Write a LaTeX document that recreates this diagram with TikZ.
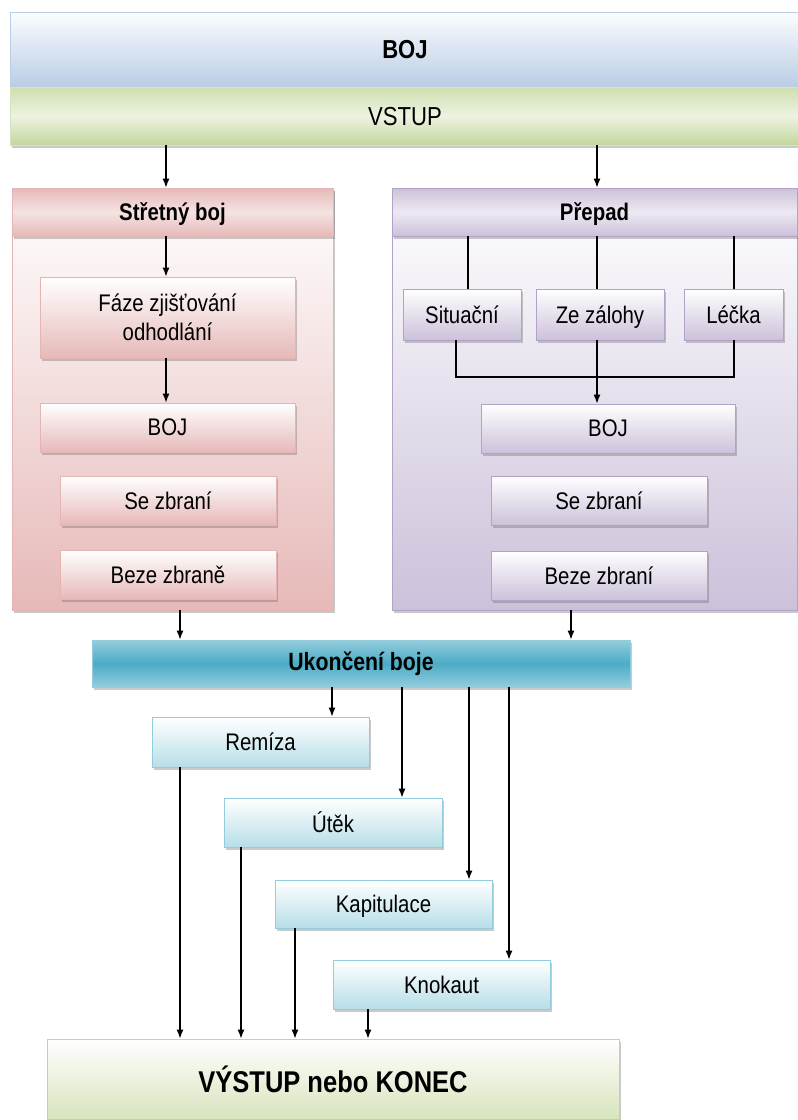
\documentclass[tikz,border=0pt]{standalone}
\usepackage{fontspec}
\setmainfont{Liberation Sans}[FakeStretch=0.85]
\usetikzlibrary{arrows.meta,shadows}

\definecolor{modra}{HTML}{B9CDE5}
\definecolor{zelena}{HTML}{D7E4BD}
\definecolor{zelenatm}{HTML}{C3D69B}
\definecolor{ruzova}{HTML}{E6B9B8}
\definecolor{ruzovatm}{HTML}{D99694}
\definecolor{fialova}{HTML}{CCC1DA}
\definecolor{fialovatm}{HTML}{B3A2C7}
\definecolor{tyrkys}{HTML}{4BACC6}
\definecolor{tyrkyssv}{HTML}{93CDDD}
\definecolor{azur}{HTML}{B7DEE8}

\tikzset{
  arr/.style={-{Latex[length=9pt,width=7pt]}, line width=1.2pt},
  spoj/.style={line width=1.2pt},
  stin/.style={drop shadow={shadow xshift=2pt, shadow yshift=-3pt, opacity=.35, fill=black!60}},
  box/.style={rectangle, inner sep=0pt, align=center, text depth=0pt, font=\fontsize{24}{29}\selectfont, stin},
  ruzbox/.style={box, draw=ruzovatm!70, line width=0.8pt, top color=white, bottom color=ruzova},
  fialbox/.style={box, draw=fialovatm, line width=0.8pt, top color=white, bottom color=fialova},
  azurbox/.style={box, draw=tyrkyssv, line width=0.8pt, top color=white, bottom color=azur},
}

\begin{document}
\begin{tikzpicture}[x=1pt, y=-1pt]
    \useasboundingbox[fill=white] (0,0) rectangle (798,1120);

    % Top bands
    \node[box, draw=modra, top color=white!95!modra, bottom color=modra, minimum width=790pt, minimum height=75pt,
          font=\fontsize{26}{30}\selectfont\bfseries] (boj) at (405,49.5) {BOJ};
    \node[box, draw=zelena, top color=zelenatm!80, bottom color=zelenatm, middle color=zelena!45, minimum width=790pt,
          minimum height=58pt, font=\fontsize{26}{30}\selectfont] (vstup) at (405,116) {VSTUP};

    % Left panel
    \node[box, draw=ruzovatm!70, line width=0.8pt, top color=white, bottom color=ruzova, minimum width=321pt, minimum height=422pt] (stretbox) at (172.5,399) {};
    \node[box, draw=ruzovatm!70, line width=0.8pt, top color=ruzova, bottom color=ruzova, middle color=ruzova!40, minimum width=321pt, minimum height=48pt,
          font=\fontsize{24}{29}\selectfont\bfseries] (stret) at (172.5,212) {Střetný boj};
    \node[ruzbox, minimum width=255pt, minimum height=81pt] (faze) at (167.5,317.5) {Fáze zjišťování\\odhodlání};
    \node[ruzbox, minimum width=255pt, minimum height=49pt] (bojl) at (167.5,427.5) {BOJ};
    \node[ruzbox, minimum width=216pt, minimum height=49pt] (sezbl) at (168,500.5) {Se zbraní};
    \node[ruzbox, minimum width=216pt, minimum height=49pt] (bezel) at (168,574.5) {Beze zbraně};

    % Right panel
    \node[box, draw=fialovatm, line width=0.8pt, top color=white, bottom color=fialova, minimum width=405pt, minimum height=422pt] (prepadbox) at (594.5,399) {};
    \node[box, draw=fialovatm, line width=0.8pt, top color=fialova, bottom color=fialova, middle color=fialova!35, minimum width=405pt, minimum height=48pt,
          font=\fontsize{24}{29}\selectfont\bfseries] (prepad) at (594.5,212) {Přepad};
    \node[fialbox, minimum width=118pt, minimum height=51pt] (situ) at (462,314.5) {Situační};
    \node[fialbox, minimum width=128pt, minimum height=51pt] (zezal) at (600,314.5) {Ze zálohy};
    \node[fialbox, minimum width=99pt, minimum height=51pt] (lecka) at (733.5,314.5) {Léčka};
    \node[fialbox, minimum width=254pt, minimum height=49pt] (bojr) at (608,428.5) {BOJ};
    \node[fialbox, minimum width=216pt, minimum height=49pt] (sezbr) at (599,500.5) {Se zbraní};
    \node[fialbox, minimum width=216pt, minimum height=49pt] (bezer) at (599,575.5) {Beze zbraní};

    % End of fight
    \node[box, draw=tyrkyssv, line width=0.8pt, top color=tyrkyssv, bottom color=tyrkyssv, middle color=tyrkys, minimum width=538pt, minimum height=47pt,
          text depth=5pt, font=\fontsize{25}{29}\selectfont\bfseries] (ukonceni) at (361,663.5) {Ukončení boje};
    \node[azurbox, minimum width=217pt, minimum height=50pt] (remiza) at (260.5,742) {Remíza};
    \node[azurbox, minimum width=218pt, minimum height=49pt] (utek) at (333,822.5) {Útěk};
    \node[azurbox, minimum width=217pt, minimum height=48pt] (kapit) at (383.5,904) {Kapitulace};
    \node[azurbox, minimum width=217pt, minimum height=49pt] (knok) at (441.5,984.5) {Knokaut};
    \node[box, draw=zelenatm, line width=0.8pt, top color=white, bottom color=zelena, minimum width=572pt, minimum height=80pt,
          font=\fontsize{30}{34}\selectfont\bfseries] (vystup) at (333,1079) {VÝSTUP nebo KONEC};

    % Arrows from the top
    \coordinate (vl) at (166,0);
    \coordinate (vp) at (597,0);
    \draw[arr] (vstup.south -| vl) -- (stret.north -| vl);
    \draw[arr] (vstup.south -| vp) -- (prepad.north -| vp);

    % Left panel arrows
    \draw[arr] (stret.south -| vl) -- (faze.north -| vl);
    \draw[arr] (faze.south -| vl) -- (bojl.north -| vl);

    % Right panel lines
    \foreach \n/\x in {situ/468, zezal/597, lecka/734} {
        \coordinate (h\n) at (\x,0);
        \draw[spoj] (prepad.south -| h\n) -- (\n.north -| h\n);
    }
    \coordinate (sit) at (456,0);
    \coordinate (spoj) at (597,377);
    \draw[spoj] (situ.south -| sit) |- (spoj) -| (lecka.south -| hlecka);
    \draw[arr] (zezal.south -| hzezal) -- (bojr.north -| hzezal);

    % Into Ukonceni
    \coordinate (ul) at (180,0);
    \coordinate (up) at (571,0);
    \draw[arr] (stretbox.south -| ul) -- (ukonceni.north -| ul);
    \draw[arr] (prepadbox.south -| up) -- (ukonceni.north -| up);

    % Outcomes
    \foreach \n/\x in {remiza/332, utek/402, kapit/469, knok/509} {
        \coordinate (a\n) at (\x,0);
        \draw[arr] (ukonceni.south -| a\n) -- (\n.north -| a\n);
    }
    \foreach \n/\x in {remiza/180, utek/241, kapit/295, knok/368} {
        \coordinate (b\n) at (\x,0);
        \draw[arr] (\n.south -| b\n) -- (vystup.north -| b\n);
    }
\end{tikzpicture}
\end{document}
